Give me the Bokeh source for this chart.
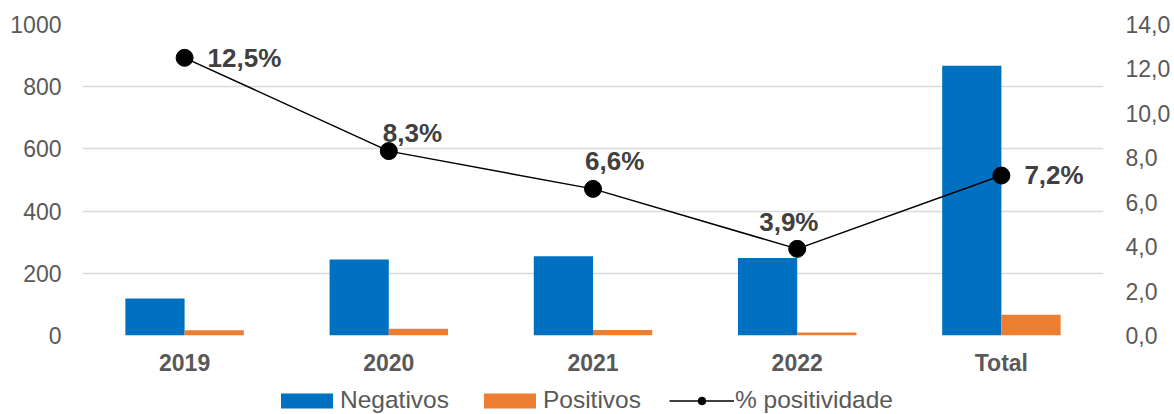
from bokeh.plotting import figure
from bokeh.layouts import column
from bokeh.models import (FactorRange, Range1d, LinearAxis, FixedTicker, Legend,
                          LegendItem, ColumnDataSource)
from bokeh.transform import dodge
from bokeh.core.properties import value
from bokeh.embed import file_html
from bokeh.resources import INLINE

# ---- data ----
categories = ["2019", "2020", "2021", "2022", "Total"]
negativos = [119, 244, 255, 249, 867]
positivos = [17, 22, 18, 10, 67]
positividade = [12.5, 8.3, 6.6, 3.9, 7.2]
pct_labels = ["12,5%", "8,3%", "6,6%", "3,9%", "7,2%"]
left_ticks = [0, 200, 400, 600, 800, 1000]
right_ticks = [0, 2, 4, 6, 8, 10, 12, 14]
right_tick_labels = ["0,0", "2,0", "4,0", "6,0", "8,0", "10,0", "12,0", "14,0"]
series_names = ["Negativos", "Positivos", "% positividade"]

# label placement (screen pixel offsets from each point)
label_dx = [23, -6, -8, -38, 23]
label_dy = [0, -18, -28, -27, -1]

FONT = "Liberation Sans"
BLUE = "#0070C0"
ORANGE = "#ED7D31"

src = ColumnDataSource(dict(cat=categories, neg=negativos, pos=positivos,
                            pct=positividade, lab=pct_labels,
                            dx=label_dx, dy=label_dy))

p = figure(width=1174, height=380, output_backend="svg", toolbar_location=None,
           x_range=FactorRange(*categories, range_padding=0),
           y_range=Range1d(0, 1000),
           min_border_left=82, min_border_right=71, min_border_top=24,
           min_border_bottom=45)
p.extra_y_ranges = {"pct": Range1d(0, 14)}
p.outline_line_color = None
p.background_fill_color = "white"
p.border_fill_color = "white"

p.vbar(x=dodge("cat", -0.145, range=p.x_range), top="neg", width=0.29,
       source=src, fill_color=BLUE, line_color=None)
p.vbar(x=dodge("cat", 0.145, range=p.x_range), top="pos", width=0.29,
       source=src, fill_color=ORANGE, line_color=None)

p.line(x="cat", y="pct", source=src, y_range_name="pct",
       line_color="black", line_width=1.5)
p.scatter(x="cat", y="pct", source=src, y_range_name="pct",
          size=17, fill_color="black", line_color="black")

p.text(x="cat", y="pct", text="lab", source=src, y_range_name="pct",
       x_offset="dx", y_offset="dy",
       text_font=value(FONT), text_font_style="bold", text_font_size="26px",
       text_color="#404040", text_align="left", text_baseline="middle")

# grid
p.xgrid.grid_line_color = None
p.ygrid.grid_line_color = "#D9D9D9"
p.ygrid.grid_line_width = 1.5
p.ygrid.ticker = FixedTicker(ticks=left_ticks)

# left axis
ya = p.yaxis[0]
ya.ticker = FixedTicker(ticks=left_ticks)
ya.axis_line_color = None
ya.major_tick_line_color = None
ya.minor_tick_line_color = None
ya.major_label_standoff = 15
ya.major_label_text_font = FONT
ya.major_label_text_font_size = "23px"
ya.major_label_text_color = "#595959"

# right axis
ra = LinearAxis(y_range_name="pct", ticker=FixedTicker(ticks=right_ticks),
                major_label_overrides={t: l for t, l in zip(right_ticks, right_tick_labels)})
ra.axis_line_color = None
ra.major_tick_line_color = None
ra.minor_tick_line_color = None
ra.major_label_standoff = 16
ra.major_label_text_font = FONT
ra.major_label_text_font_size = "23px"
ra.major_label_text_color = "#595959"
p.add_layout(ra, "right")

# bottom axis
xa = p.xaxis[0]
xa.axis_line_color = None
xa.major_tick_line_color = None
xa.minor_tick_line_color = None
xa.major_label_standoff = 8
xa.major_label_text_font = FONT
xa.major_label_text_font_style = "bold"
xa.major_label_text_font_size = "23px"
xa.major_label_text_color = "#595959"

# ---- legend strip below the chart (key renderers have no drawable points) ----
lg = figure(width=1174, height=34, output_backend="svg", toolbar_location=None,
            x_axis_type=None, y_axis_type=None, min_border=0,
            x_range=Range1d(0, 1), y_range=Range1d(0, 1))
lg.outline_line_color = None
nan = float("nan")
key_src = ColumnDataSource(dict(x=[nan], y=[nan]))
k_neg = lg.vbar(x="x", top="y", width=0.1, source=key_src, fill_color=BLUE, line_color=None)
k_pos = lg.vbar(x="x", top="y", width=0.1, source=key_src, fill_color=ORANGE, line_color=None)
k_line = lg.line(x="x", y="y", source=key_src, line_color="black", line_width=1.5)
k_dot = lg.scatter(x="x", y="y", source=key_src, size=12, fill_color="black", line_color="black")

legend = Legend(items=[LegendItem(label=series_names[0], renderers=[k_neg]),
                       LegendItem(label=series_names[1], renderers=[k_pos]),
                       LegendItem(label=series_names[2], renderers=[k_line, k_dot])],
                orientation="horizontal", location=(192, 0),
                glyph_width=65, glyph_height=19, label_standoff=1, spacing=28,
                padding=0, margin=0, border_line_color=None,
                background_fill_alpha=0,
                label_text_font=FONT, label_text_font_size="24.5px",
                label_text_color="#595959")
lg.add_layout(legend)

layout = column(p, lg, spacing=0)
open("out.html", "w").write(file_html(layout, INLINE))
